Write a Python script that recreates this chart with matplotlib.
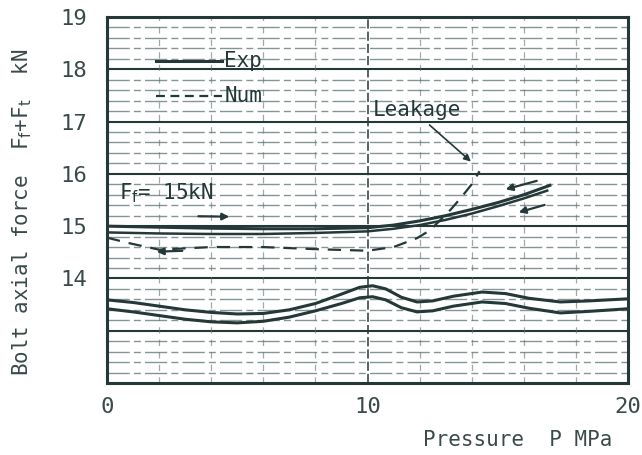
import numpy as np
import matplotlib
matplotlib.use('Agg')
import matplotlib.pyplot as plt

plt.rcParams['font.family'] = ['DejaVu Sans Mono']
plt.rcParams['mathtext.fontset'] = 'dejavusans'

ink = '#243838'

# --- data (P in MPa, force in kN) ---
p_wave = [0, 1, 2, 3, 4, 5, 6, 7, 8, 9, 9.7, 10.2, 10.7, 11.3, 11.9, 12.5, 13.3, 14.4, 15.3, 16.2, 17.4, 18.5, 20]
f_wave_top = [13.59, 13.54, 13.47, 13.40, 13.35, 13.32, 13.33, 13.40, 13.52, 13.70, 13.83, 13.86, 13.80,
              13.64, 13.55, 13.57, 13.66, 13.74, 13.71, 13.62, 13.55, 13.57, 13.61]
f_wave_low = [13.42, 13.36, 13.29, 13.22, 13.17, 13.15, 13.18, 13.26, 13.38, 13.52, 13.63, 13.65, 13.59,
              13.44, 13.36, 13.38, 13.47, 13.55, 13.52, 13.43, 13.34, 13.37, 13.42]

p_exp_a = [0, 2, 4, 6, 8, 10, 11, 12, 13, 14, 15, 16, 17]
f_exp_a = [15.00, 14.98, 14.96, 14.95, 14.95, 14.97, 15.02, 15.10, 15.20, 15.32, 15.45, 15.60, 15.78]
p_exp_b = [0, 2, 4, 6, 8, 10, 11, 12, 13, 14, 15, 16, 16.9]
f_exp_b = [14.88, 14.86, 14.85, 14.85, 14.87, 14.90, 14.95, 15.02, 15.12, 15.24, 15.38, 15.53, 15.68]

p_num = [0, 0.8, 2, 4, 6, 8, 10, 11, 11.9, 12.4, 12.8, 13.2, 13.6, 14.0, 14.3]
f_num = [14.78, 14.68, 14.55, 14.60, 14.60, 14.56, 14.53, 14.60, 14.77, 14.92, 15.12, 15.32, 15.55, 15.80, 16.05]

y_ticks = [14, 15, 16, 17, 18, 19]
x_ticks = [0, 10, 20]

fig = plt.figure(figsize=(6.42, 4.55), dpi=100)
ax = fig.add_axes([107/642, 1-383/455, 521/642, 366/455])
ax.set_xlim(0, 20)
ax.set_ylim(12, 19)

# graph-paper grid
for v in np.arange(12.2, 19, 0.2):
    if abs(v - round(v)) < 1e-6:
        ax.axhline(v, color=ink, lw=1.5, zorder=1)
    else:
        ax.axhline(v, color='#5f7070', lw=1.0, ls=(0, (16, 3, 5, 3)), alpha=0.75, zorder=1)
for xv in range(2, 20, 2):
    if xv == 10:
        ax.axvline(xv, color=ink, lw=1.1, ls=(0, (6, 2)), zorder=1)
    else:
        ax.axvline(xv, color='#5f7070', lw=0.9, ls=(0, (5, 5)), alpha=0.6, zorder=1)

ax.plot(p_wave, f_wave_top, color=ink, lw=2.2, zorder=3)
ax.plot(p_wave, f_wave_low, color=ink, lw=2.2, zorder=3)
ax.plot(p_exp_a, f_exp_a, color=ink, lw=2.2, zorder=3)
ax.plot(p_exp_b, f_exp_b, color=ink, lw=1.8, zorder=3)
ax.plot(p_num, f_num, color=ink, lw=1.6, ls=(0, (6, 4)), zorder=3)

# direction arrows
arr = dict(arrowstyle='-|>', color=ink, lw=1.6, mutation_scale=10)
ax.annotate('', xy=(15.2, 15.69), xytext=(16.6, 15.88), arrowprops=arr)
ax.annotate('', xy=(15.7, 15.25), xytext=(16.9, 15.42), arrowprops=arr)
ax.annotate('', xy=(1.8, 14.51), xytext=(3.0, 14.53), arrowprops=arr)
ax.annotate('', xy=(4.8, 15.18), xytext=(3.4, 15.19), arrowprops=arr)

# legend drawn in plot
ax.plot([1.9, 4.4], [18.15, 18.15], color=ink, lw=2.2, zorder=3)
ax.text(4.5, 18.15, 'Exp', fontsize=15, color=ink, va='center', ha='left', zorder=4)
ax.plot([1.9, 4.4], [17.48, 17.48], color=ink, lw=1.6, ls=(0, (4, 2.5)), zorder=3)
ax.text(4.5, 17.48, 'Num', fontsize=15, color=ink, va='center', ha='left', zorder=4)

ax.text(0.45, 15.63, r'F$_\mathrm{f}$= 15kN', fontsize=15, color=ink, va='center', ha='left', zorder=4)

ax.text(10.2, 17.22, 'Leakage', fontsize=15, color=ink, va='center', ha='left', zorder=4)
ax.annotate('', xy=(14.05, 16.2), xytext=(12.3, 16.97),
            arrowprops=dict(arrowstyle='-|>', color=ink, lw=1.2, mutation_scale=10))

for s in ax.spines.values():
    s.set_linewidth(2.2)
    s.set_color(ink)

ax.set_xticks(x_ticks)
ax.set_xticklabels([str(t) for t in x_ticks], fontsize=16, color='#3a4a4a')
ax.set_yticks(y_ticks)
ax.set_yticklabels([str(t) for t in y_ticks], fontsize=16, color='#3a4a4a')
ax.tick_params(length=0, pad=14)
ax.tick_params(axis='x', pad=10)

fig.text(423/642, 1-440/455, 'Pressure  P MPa', fontsize=15, color='#3a4a4a', va='center', ha='left')
fig.text(22/642, 1-212/455, r'Bolt axial force  F$_\mathrm{f}$+F$_\mathrm{t}$  kN', fontsize=15,
         color='#3a4a4a', rotation=90, va='center', ha='center')

fig.savefig('out.png', dpi=100, facecolor='white')
